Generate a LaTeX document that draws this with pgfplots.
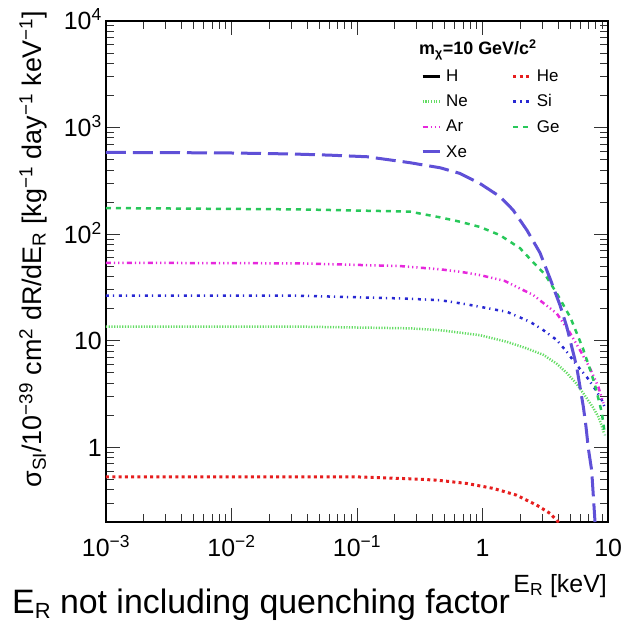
\documentclass[border=0pt]{standalone}
\usepackage{fontspec}
\setmainfont{Liberation Sans}
\usepackage{pgfplots}
\pgfplotsset{compat=1.18}
\newcommand\fsz[1]{\fontsize{#1}{#1}\selectfont}
\definecolor{cXe}{RGB}{95,80,215}
\definecolor{cGe}{RGB}{40,200,90}
\definecolor{cAr}{RGB}{230,40,220}
\definecolor{cSi}{RGB}{40,40,210}
\definecolor{cNe}{RGB}{100,220,100}
\definecolor{cHe}{RGB}{230,30,30}
\begin{document}
\begin{tikzpicture}[x=1bp,y=1bp]
\path[use as bounding box] (-106,-103) rectangle (518,522);
\begin{axis}[
  at={(0,0)}, anchor=south west,
  width=502bp, height=501bp, scale only axis,
  xmode=log, ymode=log,
  xmin=1e-3, xmax=10, ymin=0.2, ymax=1e4,
  xtick={1e-3,1e-2,1e-1,1,10},
  xticklabels={10\textsuperscript{−3},10\textsuperscript{−2},10\textsuperscript{−1},1,\makebox[0pt][r]{10\hspace{-14bp}}},
  ytick={1,10,100,1000,10000},
  yticklabels={1,10,10\textsuperscript{2},10\textsuperscript{3},10\textsuperscript{4}},
  minor xtick={0.002,0.003,0.004,0.005,0.006,0.007,0.008,0.009,0.02,0.03,0.04,0.05,0.06,0.07,0.08,0.09,0.2,0.3,0.4,0.5,0.6,0.7,0.8,0.9,2,3,4,5,6,7,8,9},
  minor ytick={0.3,0.4,0.5,0.6,0.7,0.8,0.9,2,3,4,5,6,7,8,9,20,30,40,50,60,70,80,90,200,300,400,500,600,700,800,900,2000,3000,4000,5000,6000,7000,8000,9000},
  ticklabel style={font=\fsz{25}},
  xticklabel style={anchor=base, yshift=-34bp, inner sep=0pt},
  yticklabel style={anchor=base east, xshift=-4bp, yshift=-9bp, inner sep=0pt},
  axis line style={line width=2bp},
  every tick/.style={black!80, line width=1bp},
  major tick length=14bp, minor tick length=8bp,
  tick align=inside,
  legend columns=2,
  legend cell align=left,
  legend style={at={(axis description cs:0.6275,0.907)}, anchor=north west,
    draw=none, fill=none, font=\fsz{17}, inner sep=0pt, row sep=7.8bp,
    /tikz/every even column/.append style={column sep=42bp},
    /tikz/every odd column/.append style={column sep=3bp}},
  legend image code/.code={\draw[#1] (0bp,0bp) -- (17bp,0bp);},
]
\addlegendimage{black, line width=2.5bp}
\addlegendentry{H}
\addplot[cHe, line width=3bp, dash pattern=on 3bp off 3.3bp] coordinates {
(0.001,0.531)(0.094,0.531)(0.25,0.51)(0.431,0.494)(0.748,0.46)(1.22,0.413)(1.87,0.357)(2.70,0.288)(3.45,0.241)(3.90,0.208)(4.3,0.18)};
\addlegendentry{He}
\addplot[cNe, line width=2.5bp, dash pattern=on 1.2bp off 1.5bp] coordinates {
(0.001,13.6)(0.035,13.6)(0.264,13.1)(0.458,12.6)(0.955,11.3)(1.56,9.8)(2.25,8.5)(3.05,7.4)(3.90,6.1)(4.69,5.0)(5.63,3.95)(6.56,3.05)(7.64,2.35)(8.37,1.94)(8.91,1.6)(9.3,1.35)};
\addlegendentry{Ne}
\addplot[cSi, line width=2.5bp, dash pattern=on 3bp off 4bp on 1.2bp off 4.8bp] coordinates {
(0.001,26.5)(0.035,26.5)(0.22,25.0)(0.458,24.1)(0.75,22)(1.57,18.7)(2.39,15.1)(3.05,12.6)(3.90,10.2)(4.69,7.9)(5.63,5.93)(6.76,4.6)(7.88,3.55)(8.91,2.8)(9.46,2.35)};
\addlegendentry{Si}
\addplot[cAr, line width=2.5bp, dash pattern=on 5bp off 3bp on 1.2bp off 3bp on 1.2bp off 3bp on 1.2bp off 3.4bp] coordinates {
(0.001,54)(0.035,53.3)(0.22,50.3)(0.458,46.9)(0.662,44.5)(0.955,41.4)(1.5,36.5)(2.10,30)(2.54,26.9)(2.96,23.3)(3.90,18.1)(4.83,12.6)(5.98,8.2)(7.19,5.52)(8.37,3.71)(9.18,2.6)};
\addlegendentry{Ar}
\addplot[cGe, line width=2.5bp, dash pattern=on 5bp off 5bp] coordinates {
(0.001,176)(0.035,171)(0.264,163)(0.458,144)(0.662,131)(0.955,117)(1.378,98)(1.99,74)(2.51,55.2)(3.16,41.7)(3.98,26.9)(5.01,16.6)(6.31,8.5)(7.19,5.4)(7.94,3.72)(8.91,2.14)(9.46,1.3)};
\addlegendentry{Ge}
\addplot[cXe, line width=3bp, dash pattern=on 20bp off 7bp] coordinates {
(0.001,585)(0.003,583)(0.01,578)(0.03,566)(0.06,552)(0.12,533)(0.26,470)(0.46,420)(0.66,372)(0.95,300)(1.38,225)(1.75,169)(2.26,109)(2.87,67)(3.45,38.5)(4.15,21.5)(4.69,13.6)(5.14,8.8)(5.63,5.71)(5.98,3.71)(6.36,2.41)(6.68,1.56)(6.97,0.98)(7.41,0.61)(7.88,0.2)};
\addlegendentry{Xe}
\end{axis}
\node[anchor=base west, inner sep=0pt, font=\fsz{18}\bfseries] at (313,467) {m\textsubscript{χ}=10 GeV/c\textsuperscript{2}};
\node[rotate=90, inner sep=0pt, font=\fsz{27}] at (-73,273) {σ\textsubscript{SI}/10\textsuperscript{−39} cm\textsuperscript{2} dR/dE\textsubscript{R} [kg\textsuperscript{−1} day\textsuperscript{−1} keV\textsuperscript{−1}]};
\node[anchor=base east, inner sep=0pt, font=\fsz{25}] at (501,-70) {E\textsubscript{R} [keV]};
\node[anchor=base west, inner sep=0pt, font=\fsz{34}] at (-94,-91) {E\raisebox{-0.17em}{\fsz{22}R} not including quenching factor};
\end{tikzpicture}
\end{document}
